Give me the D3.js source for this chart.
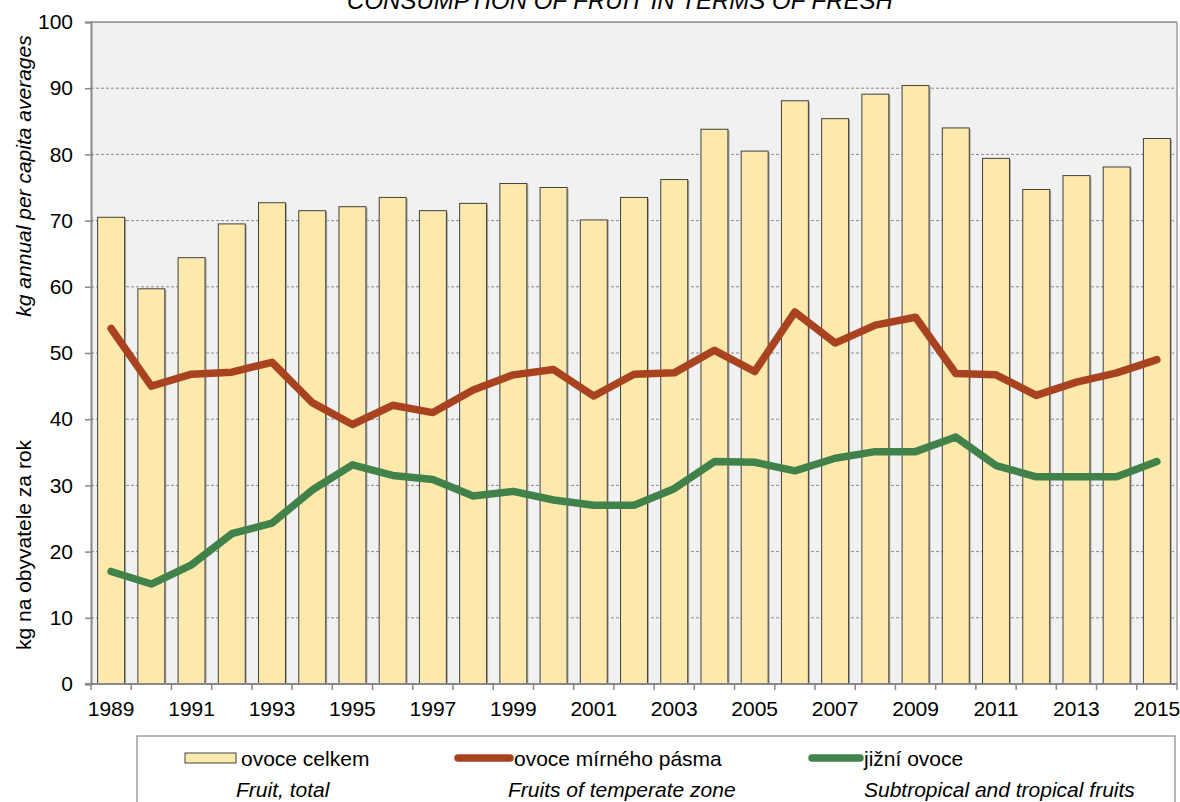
<!DOCTYPE html>
<html>
<head>
<meta charset="utf-8">
<script src="https://d3js.org/d3.v7.min.js"></script>
<style>
  body { margin: 0; background: #fff; }
  svg { display: block; font-family: "Liberation Sans", Arial, sans-serif; }
</style>
</head>
<body>
<svg id="chart" width="1180" height="802"></svg>
<script>
// values (kg per capita per year)
const years = [1989, 1990, 1991, 1992, 1993, 1994, 1995, 1996, 1997, 1998, 1999, 2000, 2001, 2002,
  2003, 2004, 2005, 2006, 2007, 2008, 2009, 2010, 2011, 2012, 2013, 2014, 2015];
const fruitTotal = [70.5, 59.7, 64.4, 69.5, 72.7, 71.5, 72.1, 73.5, 71.5, 72.6, 75.6, 75.0, 70.1, 73.5,
  76.2, 83.8, 80.5, 88.1, 85.4, 89.1, 90.4, 84.0, 79.4, 74.7, 76.8, 78.1, 82.4];
const fruitTemperate = [53.7, 45.0, 46.8, 47.1, 48.6, 42.5, 39.2, 42.1, 41.0, 44.4, 46.7, 47.5, 43.5, 46.8,
  47.0, 50.4, 47.2, 56.2, 51.5, 54.2, 55.4, 46.9, 46.7, 43.6, 45.6, 47.0, 49.0];
const fruitTropical = [17.0, 15.1, 18.0, 22.7, 24.3, 29.3, 33.1, 31.5, 30.9, 28.4, 29.1, 27.8, 27.0, 27.0,
  29.5, 33.6, 33.5, 32.2, 34.1, 35.1, 35.1, 37.3, 33.0, 31.3, 31.3, 31.3, 33.6];
const yTicks = [0, 10, 20, 30, 40, 50, 60, 70, 80, 90, 100];
const legendCz = ["ovoce celkem", "ovoce mírného pásma", "jižní ovoce"];
const legendEn = ["Fruit, total", "Fruits of temperate zone", "Subtropical and tropical fruits"];

const svg = d3.select('#chart');
const plotL = 91, plotR = 1177, plotT = 22, plotB = 684;

const x = d3.scaleBand().domain(years).range([plotL, plotR]).paddingInner(0.33).paddingOuter(0.165);
const y = d3.scaleLinear().domain([0, 100]).range([plotB, plotT]);
const cx = d => x(d) + x.bandwidth() / 2;

// title (cut at the top like the original)
svg.append('text')
    .attr('x', 620).attr('y', 9)
    .attr('text-anchor', 'middle')
    .style('font-size', '24px').style('font-style', 'italic')
    .text('CONSUMPTION OF FRUIT IN TERMS OF FRESH');

// plot background
svg.append('rect')
    .attr('x', plotL).attr('y', plotT)
    .attr('width', plotR - plotL).attr('height', plotB - plotT)
    .attr('fill', '#f1f1f1');

// gridlines
svg.append('g').selectAll('line')
    .data(yTicks.filter(d => d > 0))
    .enter().append('line')
    .attr('x1', plotL).attr('x2', plotR)
    .attr('y1', d => y(d)).attr('y2', d => y(d))
    .attr('stroke', d => d === 100 ? '#555' : '#8a8a8a')
    .attr('stroke-width', 1)
    .attr('stroke-dasharray', d => d === 100 ? null : '3,2');

// right border
svg.append('line')
    .attr('x1', plotR).attr('x2', plotR).attr('y1', plotT).attr('y2', plotB)
    .attr('stroke', '#a0a0a0').attr('stroke-width', 1.5);

// bars with a soft shadow on the right
const bars = svg.append('g');
bars.selectAll('rect.shadow')
    .data(years)
    .enter().append('rect')
    .attr('class', 'shadow')
    .attr('x', d => x(d) + 1.5)
    .attr('y', (d, i) => y(fruitTotal[i]) + 1)
    .attr('width', x.bandwidth())
    .attr('height', (d, i) => plotB - y(fruitTotal[i]) - 1)
    .attr('fill', '#a8a8a8');
bars.selectAll('rect.bar')
    .data(years)
    .enter().append('rect')
    .attr('class', 'bar')
    .attr('x', d => x(d))
    .attr('y', (d, i) => y(fruitTotal[i]))
    .attr('width', x.bandwidth())
    .attr('height', (d, i) => plotB - y(fruitTotal[i]))
    .attr('fill', '#fce9ab')
    .attr('stroke', '#404040')
    .attr('stroke-width', 1);

// lines
const line = d3.line().x(d => cx(d[0])).y(d => y(d[1]));
svg.append('path')
    .datum(years.map((yr, i) => [yr, fruitTemperate[i]]))
    .attr('d', line)
    .attr('fill', 'none')
    .attr('stroke', '#a8421f')
    .attr('stroke-width', 7.5)
    .attr('stroke-linejoin', 'round')
    .attr('stroke-linecap', 'round');
svg.append('path')
    .datum(years.map((yr, i) => [yr, fruitTropical[i]]))
    .attr('d', line)
    .attr('fill', 'none')
    .attr('stroke', '#41824a')
    .attr('stroke-width', 7.5)
    .attr('stroke-linejoin', 'round')
    .attr('stroke-linecap', 'round');

// y axis
const yAxis = d3.axisLeft(y).tickValues(yTicks).tickSize(6).tickPadding(12);
const gy = svg.append('g').attr('transform', `translate(${plotL},0)`).call(yAxis);
gy.select('.domain').attr('stroke', '#888').attr('stroke-width', 2);
gy.selectAll('.tick line').attr('stroke', '#888').attr('stroke-width', 1.5);
gy.selectAll('.tick text').style('font-size', '21px').attr('fill', '#000');

// x axis: labels on odd years, tick marks on category boundaries
const xAxis = d3.axisBottom(x).tickSize(0).tickPadding(17)
    .tickFormat(d => (d - 1989) % 2 === 0 ? d : '');
const gx = svg.append('g').attr('transform', `translate(0,${plotB})`).call(xAxis);
gx.select('.domain').remove();
gx.selectAll('.tick text').style('font-size', '21px').attr('fill', '#000');

const bounds = years.map(d => cx(d) - x.step() / 2).concat([plotR]);
svg.append('g').selectAll('line')
    .data(bounds)
    .enter().append('line')
    .attr('x1', d => d).attr('x2', d => d)
    .attr('y1', plotB).attr('y2', plotB + 6)
    .attr('stroke', '#888').attr('stroke-width', 1.5);
svg.append('line')
    .attr('x1', plotL - 6).attr('x2', plotR)
    .attr('y1', plotB).attr('y2', plotB)
    .attr('stroke', '#888').attr('stroke-width', 2);

// y axis titles
svg.append('text')
    .attr('transform', 'translate(31,176) rotate(-90)')
    .attr('text-anchor', 'middle')
    .style('font-size', '21px').style('font-style', 'italic')
    .text('kg annual per capita averages');
svg.append('text')
    .attr('transform', 'translate(31,545) rotate(-90)')
    .attr('text-anchor', 'middle')
    .style('font-size', '21px')
    .text('kg na obyvatele za rok');

// legend
svg.append('rect')
    .attr('x', 137).attr('y', 736)
    .attr('width', 1038).attr('height', 80)
    .attr('fill', '#fff')
    .attr('stroke', '#888').attr('stroke-width', 1.2);

const lg = svg.append('g');
lg.append('rect')
    .attr('x', 185).attr('y', 753).attr('width', 51).attr('height', 10)
    .attr('fill', '#fce9ab').attr('stroke', '#404040').attr('stroke-width', 1);
lg.append('line')
    .attr('x1', 458).attr('x2', 510).attr('y1', 758).attr('y2', 758)
    .attr('stroke', '#a8421f').attr('stroke-width', 7.5).attr('stroke-linecap', 'round');
lg.append('line')
    .attr('x1', 812).attr('x2', 860).attr('y1', 758).attr('y2', 758)
    .attr('stroke', '#41824a').attr('stroke-width', 7.5).attr('stroke-linecap', 'round');

const czX = [241, 514, 864];
const enX = [236, 508, 864];
lg.selectAll('text.cz')
    .data(legendCz)
    .enter().append('text')
    .attr('class', 'cz')
    .attr('x', (d, i) => czX[i]).attr('y', 766)
    .style('font-size', '21px')
    .text(d => d);
lg.selectAll('text.en')
    .data(legendEn)
    .enter().append('text')
    .attr('class', 'en')
    .attr('x', (d, i) => enX[i]).attr('y', 797)
    .style('font-size', '21px').style('font-style', 'italic')
    .text(d => d);
</script>
</body>
</html>
